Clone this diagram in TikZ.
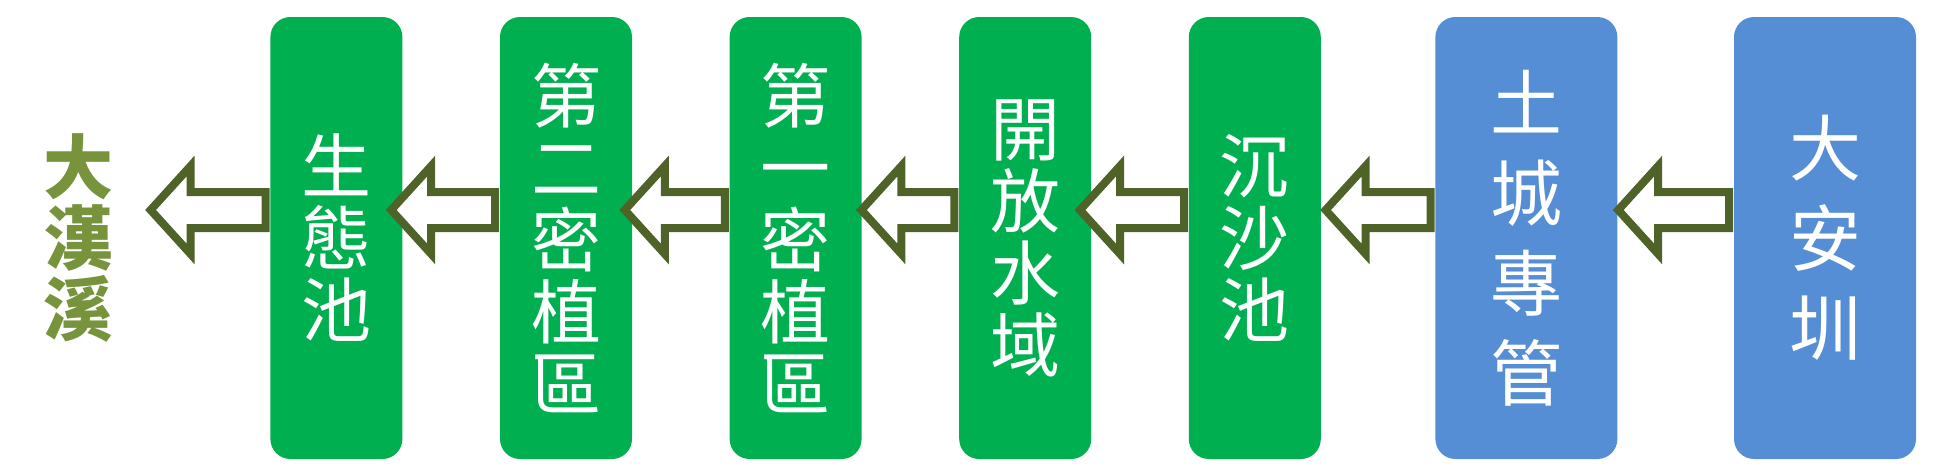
\documentclass[tikz,border=0pt]{standalone}
\usepackage{fontspec}
\newfontfamily\cjk{Noto Sans CJK TC}
\usetikzlibrary{positioning}

\definecolor{poolgreen}{HTML}{00B050}
\definecolor{pipeblue}{HTML}{558ED5}
\definecolor{arrowolive}{HTML}{4F6228}
\definecolor{riverolive}{HTML}{77933C}

% hollow arrow from the west side of #2 to the east side of #3, #1 moves the tip
\newcommand{\flowarrow}[3][0pt]{
  \draw[flowline] ([xshift=#1,yshift=14pt]#3.east) coordinate (tip) -- ++(20pt,22pt) -- ++(0,-13pt)
    -- ([xshift=-2pt,yshift=23pt]#2.west) -- ([xshift=-2pt,yshift=5pt]#2.west)
    -- ([xshift=20pt,yshift=-9pt]tip) -- ++(0,-13pt) -- cycle;
}

\begin{document}
\begin{tikzpicture}[thick,
    main/.style = {rectangle, rounded corners=10pt, fill=poolgreen, text=white, minimum width=66pt, minimum height=221pt, align=center, inner sep=0pt, font={\cjk\fontsize{35pt}{36pt}\selectfont}},
    pipe/.style = {main, fill=pipeblue, minimum width=91pt, font={\cjk\fontsize{36pt}{45pt}\selectfont}},
    flowline/.style = {draw=arrowolive, fill=white, line width=4pt}]
    \useasboundingbox (0,0) rectangle (966.5pt,236.5pt);
    \node[pipe] (1) at (912.5pt,117.5pt) {大\\安\\圳};
    \node[pipe] (2) [left=57.5pt of 1] {土\\城\\專\\管};
    \node[main] (3) [left=56.5pt of 2] {沉\\沙\\池};
    \node[main] (4) [left=48pt of 3] {開\\放\\水\\域};
    \node[main] (5) [left=48pt of 4] {第\\一\\密\\植\\區};
    \node[main] (6) [left=48pt of 5] {第\\二\\密\\植\\區};
    \node[main] (7) [left=48pt of 6] {生\\態\\池};
    \node[main, fill=none, minimum width=0pt, text=riverolive, font={\cjk\bfseries\fontsize{35pt}{35.5pt}\selectfont}] (8) [left=77.5pt of 7] {大\\漢\\溪};
    \flowarrow[0pt]{1}{2}
    \flowarrow[2pt]{2}{3}
    \flowarrow[-6pt]{3}{4}
    \flowarrow[-0.5pt]{4}{5}
    \flowarrow[-4pt]{5}{6}
    \flowarrow[-6pt]{6}{7}
    \flowarrow[18pt]{7}{8}
\end{tikzpicture}
\end{document}
